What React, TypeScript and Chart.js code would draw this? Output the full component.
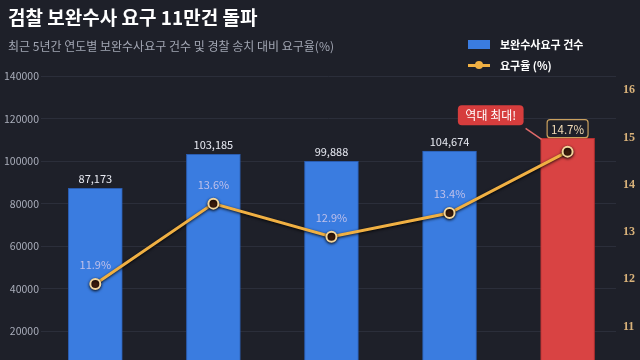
import React, { useEffect, useRef } from "react";
import { Chart, registerables } from "chart.js";

Chart.register(...registerables);

// ---- data ----
const categories = ["2020", "2021", "2022", "2023", "2024"];
const requestCounts = [87173, 103185, 99888, 104674, 110700];
const requestRates = [11.9, 13.6, 12.9, 13.4, 14.7];
const countLabels = ["87,173", "103,185", "99,888", "104,674", ""];
const rateLabels = ["11.9%", "13.6%", "12.9%", "13.4%", "14.7%"];
const countTicks = [0, 20000, 40000, 60000, 80000, 100000, 120000, 140000];
const rateTicks = [10, 11, 12, 13, 14, 15, 16];
const highlightIndex = 4;
const calloutText = "역대 최대!";
const titleText = "검찰 보완수사 요구 11만건 돌파";
const subtitleText = "최근 5년간 연도별 보완수사요구 건수 및 경찰 송치 대비 요구율(%)";
const seriesNames = ["보완수사요구 건수", "요구율 (%)"];

// ---- styles ----
const BG = "#1e2029";
const BLUE = "#3a7ce0";
const RED = "#d94343";
const GOLD = "#f0b043";
const FONT = '"Noto Sans CJK KR", "Noto Sans", sans-serif';
const CANVAS_H = 388;

const roundRect = (ctx: CanvasRenderingContext2D, x: number, y: number, w: number, h: number, r: number) => {
  ctx.beginPath();
  ctx.moveTo(x + r, y);
  ctx.lineTo(x + w - r, y);
  ctx.quadraticCurveTo(x + w, y, x + w, y + r);
  ctx.lineTo(x + w, y + h - r);
  ctx.quadraticCurveTo(x + w, y + h, x + w - r, y + h);
  ctx.lineTo(x + r, y + h);
  ctx.quadraticCurveTo(x, y + h, x, y + h - r);
  ctx.lineTo(x, y + r);
  ctx.quadraticCurveTo(x, y, x + r, y);
  ctx.closePath();
};

const shadowPlugin = {
  id: "lineShadow",
  beforeDatasetDraw(chart: any, args: any) {
    if (args.index !== 1) return;
    const ctx = chart.ctx;
    ctx.save();
    ctx.shadowColor = "rgba(0,0,0,0.85)";
    ctx.shadowBlur = 3;
    ctx.shadowOffsetY = 1;
  },
  afterDatasetDraw(chart: any, args: any) {
    if (args.index !== 1) return;
    chart.ctx.restore();
  },
};

const labelPlugin = {
  id: "valueLabels",
  afterDatasetsDraw(chart: any) {
    const ctx: CanvasRenderingContext2D = chart.ctx;
    const barMeta = chart.getDatasetMeta(0);
    const lineMeta = chart.getDatasetMeta(1);
    ctx.save();
    ctx.textAlign = "center";

    // bar value labels
    ctx.font = `11px ${FONT}`;
    ctx.textBaseline = "alphabetic";
    ctx.fillStyle = "#e8eaf2";
    barMeta.data.forEach((el: any, i: number) => {
      if (!countLabels[i]) return;
      ctx.fillText(countLabels[i], el.x, el.y - 5);
    });

    // line value labels
    lineMeta.data.forEach((pt: any, i: number) => {
      if (i === highlightIndex) {
        ctx.font = `11.5px ${FONT}`;
        const w = ctx.measureText(rateLabels[i]).width + 8;
        const h = 18;
        const cx = pt.x;
        const cy = pt.y - 23;
        roundRect(ctx, cx - w / 2, cy - h / 2, w, h, 3);
        ctx.fillStyle = BG;
        ctx.fill();
        ctx.lineWidth = 1.2;
        ctx.strokeStyle = "#c9a05e";
        ctx.stroke();
        ctx.fillStyle = "#f3dcb6";
        ctx.textBaseline = "middle";
        ctx.fillText(rateLabels[i], cx, cy + 0.5);
      } else {
        ctx.font = `11px ${FONT}`;
        ctx.textBaseline = "middle";
        ctx.fillStyle = "#bfc0ea";
        ctx.fillText(rateLabels[i], pt.x, pt.y - 19);
      }
    });

    // callout for the record bar
    const bar = barMeta.data[highlightIndex];
    if (bar) {
      const barLeft = bar.x - bar.width / 2;
      ctx.font = `12px ${FONT}`;
      const w = ctx.measureText(calloutText).width + 15;
      const h = 20;
      const right = barLeft - 17;
      const bottom = bar.y - 13;
      const left = right - w;
      const top = bottom - h;
      ctx.strokeStyle = "#e06a6a";
      ctx.lineWidth = 1.5;
      ctx.beginPath();
      ctx.moveTo(right + 2, bottom + 3);
      ctx.lineTo(barLeft + 1, bar.y + 1);
      ctx.stroke();
      roundRect(ctx, left, top, w, h, 4);
      ctx.fillStyle = "#d63d3d";
      ctx.fill();
      ctx.fillStyle = "#ffffff";
      ctx.textBaseline = "middle";
      ctx.fillText(calloutText, left + w / 2, top + h / 2 + 0.5);
    }
    ctx.restore();
  },
};

export default function App() {
  const canvasRef = useRef<HTMLCanvasElement | null>(null);

  useEffect(() => {
    document.body.style.margin = "0";
    document.body.style.background = BG;
    document.body.style.overflow = "hidden";
    document.documentElement.style.overflow = "hidden";
    if (!canvasRef.current) return;

    const chart = new Chart(canvasRef.current, {
      type: "bar",
      data: {
        labels: categories,
        datasets: [
          {
            type: "bar",
            label: seriesNames[0],
            data: requestCounts.map((v, i) => ({ x: i, y: v })),
            backgroundColor: requestCounts.map((_, i) => (i === highlightIndex ? RED : BLUE)),
            borderColor: requestCounts.map((_, i) => (i === highlightIndex ? "#b83030" : "#2a5cb0")),
            borderWidth: 1,
            barThickness: 54,
            yAxisID: "y",
            order: 1,
          },
          {
            type: "line",
            label: seriesNames[1],
            data: requestRates.map((v, i) => ({ x: i, y: v })),
            borderColor: GOLD,
            borderWidth: 3,
            pointRadius: 5,
            pointBorderWidth: 2,
            pointBackgroundColor: "#3b1c0c",
            pointBorderColor: "#f2d59c",
            tension: 0,
            yAxisID: "y1",
            order: 0,
          },
        ],
      },
      options: {
        responsive: false,
        animation: false,
        layout: { padding: { top: 76, bottom: 8, left: 0, right: 0 } },
        plugins: {
          legend: { display: false },
          tooltip: { enabled: false },
          title: { display: false },
        },
        scales: {
          x: {
            type: "linear",
            display: false,
            offset: false,
            min: -0.46,
            max: 4.41,
            grid: { display: false },
            ticks: {
              stepSize: 1,
              callback: (v: any) => categories[v as number] ?? "",
            },
          },
          y: {
            type: "linear",
            position: "left",
            min: countTicks[0],
            max: countTicks[countTicks.length - 1],
            afterBuildTicks: (scale: any) => {
              scale.ticks = countTicks.map((value) => ({ value }));
            },
            afterFit: (scale: any) => {
              scale.width = 41;
            },
            border: { display: false },
            grid: { color: "#2b2e3a", drawTicks: false, lineWidth: 1 },
            ticks: {
              color: "#a9adba",
              padding: 2,
              font: { family: FONT, size: 10.5 },
              callback: (v: any) => String(v),
            },
          },
          y1: {
            type: "linear",
            position: "right",
            min: rateTicks[0],
            max: 16.3,
            afterBuildTicks: (scale: any) => {
              scale.ticks = rateTicks.map((value) => ({ value }));
            },
            afterFit: (scale: any) => {
              scale.width = 24;
            },
            border: { display: false },
            grid: { display: false, drawTicks: false },
            ticks: {
              color: "#d9b27a",
              padding: 7,
              font: { family: '"Liberation Serif", serif', size: 12, weight: "bold" },
              callback: (v: any) => String(v),
            },
          },
        },
      },
      plugins: [shadowPlugin, labelPlugin],
    } as any);

    return () => chart.destroy();
  }, []);

  return (
    <div style={{ position: "relative", width: 640, height: CANVAS_H, background: BG, fontFamily: FONT }}>
      <canvas
        ref={canvasRef}
        width={640}
        height={CANVAS_H}
        style={{ display: "block", width: 640, height: CANVAS_H }}
      />
      <div
        style={{
          position: "absolute",
          left: 8,
          top: 6,
          fontSize: 19,
          lineHeight: "22px",
          fontWeight: 700,
          color: "#ffffff",
          whiteSpace: "nowrap",
        }}
      >
        {titleText}
      </div>
      <div
        style={{
          position: "absolute",
          left: 8,
          top: 38,
          fontSize: 12,
          lineHeight: "15px",
          color: "#a2a6b3",
          whiteSpace: "nowrap",
        }}
      >
        {subtitleText}
      </div>
      <div style={{ position: "absolute", left: 468, top: 36, fontSize: 11, color: "#ffffff", fontWeight: 700 }}>
        <div style={{ display: "flex", alignItems: "center", height: 16 }}>
          <span style={{ display: "inline-block", width: 22, height: 9, background: BLUE, marginRight: 10 }} />
          <span style={{ whiteSpace: "nowrap" }}>{seriesNames[0]}</span>
        </div>
        <div style={{ display: "flex", alignItems: "center", height: 16, marginTop: 5 }}>
          <span style={{ position: "relative", display: "inline-block", width: 22, height: 9, marginRight: 10 }}>
            <span style={{ position: "absolute", left: 0, top: 3, width: 22, height: 3, background: GOLD }} />
            <span
              style={{
                position: "absolute",
                left: 7,
                top: 0.5,
                width: 8,
                height: 8,
                borderRadius: "50%",
                background: GOLD,
              }}
            />
          </span>
          <span style={{ whiteSpace: "nowrap" }}>{seriesNames[1]}</span>
        </div>
      </div>
    </div>
  );
}
